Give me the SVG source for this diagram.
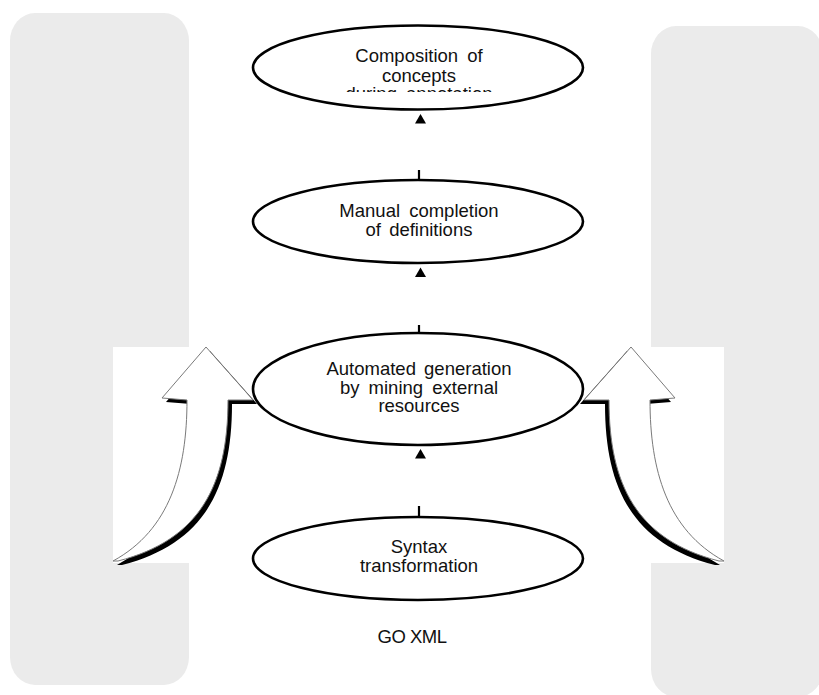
<svg xmlns="http://www.w3.org/2000/svg" xmlns:xlink="http://www.w3.org/1999/xlink" width="819" height="695" viewBox="0 0 819 695">
<style>
.panel{fill:#ebebeb;stroke:none}
.node{fill:#ffffff;stroke:#000000;stroke-width:2.6}
.lbl{font-family:"Liberation Sans",Arial,sans-serif;font-size:18.5px;fill:#111111;text-anchor:middle}
.tick{stroke:#000000;stroke-width:2.2;fill:none}
.head{fill:#000000;stroke:none}
.arrowBody{fill:#ffffff;stroke:#7a7a7a;stroke-width:1}
.arrowShadow{fill:#000000;stroke:none}
</style>
<defs>
<clipPath id="clipE1"><rect x="240" y="20" width="360" height="72"/></clipPath>
<path id="arrowShape" d="M206,347 L253,400 L228,400 C228,485 200,540 118,561 L113,561 C170,530 187,470 187,400 L162,398 Z"/>
<g id="curvedArrow">
<use xlink:href="#arrowShape" class="arrowShadow" transform="translate(4,4)"/>
<use xlink:href="#arrowShape" class="arrowBody"/>
</g>
<polygon id="tri" points="0,0 5.5,9.5 -5.5,9.5"/>
</defs>

<g id="backgrounds">
<rect class="panel" x="10" y="13" width="179" height="672" rx="25" ry="28"/>
<rect class="panel" x="651" y="26" width="172" height="671" rx="25" ry="28"/>
<rect x="113" y="347" width="142" height="216" fill="#ffffff"/>
<rect x="582" y="347" width="142" height="216" fill="#ffffff"/>
</g>

<g id="leftArrow">
<use xlink:href="#curvedArrow"/>
</g>
<g id="rightArrow">
<use xlink:href="#curvedArrow" transform="translate(837,0) scale(-1,1)"/>
</g>

<g id="connectors">
<use xlink:href="#tri" class="head" x="420.5" y="114"/>
<line class="tick" x1="419" y1="170" x2="419" y2="180"/>
<use xlink:href="#tri" class="head" x="420.5" y="267.5"/>
<line class="tick" x1="419" y1="325" x2="419" y2="333"/>
<use xlink:href="#tri" class="head" x="420.5" y="449"/>
<line class="tick" x1="419" y1="506" x2="419" y2="517"/>
</g>

<g id="node-composition">
<ellipse class="node" cx="418" cy="67.5" rx="165" ry="42"/>
<g clip-path="url(#clipE1)">
<text class="lbl" x="419" y="61.5" word-spacing="4">Composition of</text>
<text class="lbl" x="419" y="81.5">concepts</text>
<text class="lbl" x="419" y="99.5" word-spacing="4">during annotation</text>
</g>
</g>

<g id="node-manual">
<ellipse class="node" cx="418" cy="221.5" rx="165" ry="41.5"/>
<text class="lbl" x="419" y="216.5" word-spacing="4">Manual completion</text>
<text class="lbl" x="419" y="236" word-spacing="3">of definitions</text>
</g>

<g id="node-automated">
<ellipse class="node" cx="418" cy="389" rx="165" ry="56"/>
<text class="lbl" x="419" y="375" word-spacing="3">Automated generation</text>
<text class="lbl" x="419" y="393.5" word-spacing="4">by mining external</text>
<text class="lbl" x="419" y="412">resources</text>
</g>

<g id="node-syntax">
<ellipse class="node" cx="418" cy="558.5" rx="165" ry="41.5"/>
<text class="lbl" x="419" y="553">Syntax</text>
<text class="lbl" x="419" y="572">transformation</text>
</g>

<g id="label-goxml">
<text class="lbl" x="412" y="643" letter-spacing="-0.5">GO XML</text>
</g>
</svg>
